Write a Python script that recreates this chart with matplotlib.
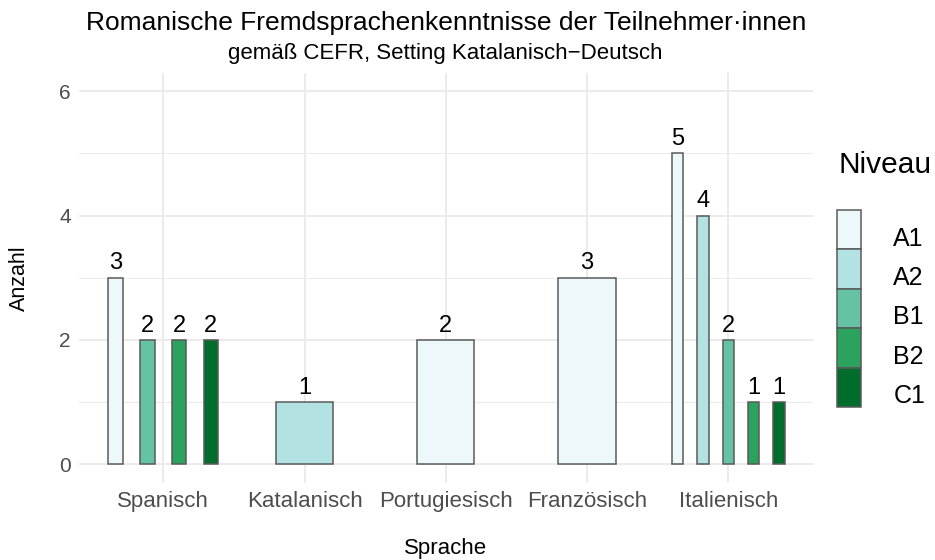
import matplotlib
matplotlib.use('Agg')
import matplotlib.pyplot as plt
from matplotlib.patches import Patch, Rectangle
from matplotlib.legend_handler import HandlerPatch

plt.rcParams['font.family'] = ['Liberation Sans', 'DejaVu Sans']

# Daten
sprachen = ['Spanisch', 'Katalanisch', 'Portugiesisch', 'Französisch', 'Italienisch']
niveaus = ['A1', 'A2', 'B1', 'B2', 'C1']
farben = ['#EDF8FB', '#B2E2E2', '#66C2A4', '#2CA25F', '#006D2C']

spanisch_niveau = ['A1', 'B1', 'B2', 'C1']
spanisch_anzahl = [3, 2, 2, 2]
katalanisch_niveau = ['A2']
katalanisch_anzahl = [1]
portugiesisch_niveau = ['A1']
portugiesisch_anzahl = [2]
franzoesisch_niveau = ['A1']
franzoesisch_anzahl = [3]
italienisch_niveau = ['A1', 'A2', 'B1', 'B2', 'C1']
italienisch_anzahl = [5, 4, 2, 1, 1]

gruppen = [
    (spanisch_niveau, spanisch_anzahl),
    (katalanisch_niveau, katalanisch_anzahl),
    (portugiesisch_niveau, portugiesisch_anzahl),
    (franzoesisch_niveau, franzoesisch_anzahl),
    (italienisch_niveau, italienisch_anzahl),
]

W, H = 935, 560
fig = plt.figure(figsize=(W / 100, H / 100), dpi=100)
ax = fig.add_axes([78.5 / W, 1 - 483 / H, (813 - 78.5) / W, (483 - 72.5) / H])

rand = '#5A5A5A'
# Balken, dodge2-artig: Gesamtbreite 0.9, Balken = 45% eines Slots
for i, (niv, anz) in enumerate(gruppen):
    n = len(niv)
    slot = 0.9 / n
    for j, (nv, a) in enumerate(zip(niv, anz)):
        x = i + 1 - 0.45 + slot * (j + 0.5)
        ax.bar(x, a, width=slot * 0.45, color=farben[niveaus.index(nv)],
               edgecolor=rand, linewidth=1.1, zorder=2)
        ax.annotate(str(a), (x, a), xytext=(0, 6), textcoords='offset points',
                    ha='center', va='baseline', fontsize=17, color='black')

ax.set_xlim(0.4, 5.6)
ax.set_ylim(-0.3, 6.3)
ax.set_xticks(range(1, 6))
ax.set_xticklabels(sprachen)
ax.set_yticks([0, 2, 4, 6])
ax.set_yticks([1, 3, 5], minor=True)
ax.tick_params(axis='x', length=0, pad=5.5, labelsize=16, labelcolor='#4D4D4D')
ax.tick_params(axis='y', length=0, pad=5.6, labelsize=15, labelcolor='#4D4D4D')
ax.tick_params(which='minor', length=0)

ax.set_axisbelow(True)
ax.grid(which='major', color='#EBEBEB', linewidth=1.4)
ax.grid(which='minor', axis='y', color='#EBEBEB', linewidth=0.7)
for s in ax.spines.values():
    s.set_visible(False)

# Texte
fig.text(445.7 / W, 1 - 30 / H, 'Romanische Fremdsprachenkenntnisse der Teilnehmer\u00b7innen',
         ha='center', va='baseline', fontsize=19)
fig.text(445.7 / W, 1 - 59 / H, 'gemäß CEFR, Setting Katalanisch\u2212Deutsch',
         ha='center', va='baseline', fontsize=16)
fig.text(445.7 / W, 1 - 554 / H, 'Sprache', ha='center', va='baseline', fontsize=16)
fig.text(19 / W, 1 - 277.7 / H, 'Anzahl', ha='center', va='center', rotation=90, fontsize=15.5)


# Legendenschluessel etwas nach oben, damit die Beschriftung tiefer sitzt (wie ggplot)
def key_patch(legend, orig_handle, xdescent, ydescent, width, height, fontsize):
    return Rectangle((-xdescent, -ydescent + 5.8), width, height)


handles = [Patch(facecolor=c, edgecolor=rand, linewidth=1.1) for c in farben]
fig.text(838.3 / W, 1 - 173.3 / H, 'Niveau', ha='left', va='baseline', fontsize=21.5)
fig.legend(handles, niveaus, loc='upper left', bbox_to_anchor=(837.3 / W, 1 - 218 / H),
           frameon=False, fontsize=18, borderpad=0, borderaxespad=0,
           handlelength=0.96, handleheight=2.05, labelspacing=0, handletextpad=1.28,
           handler_map={Patch: HandlerPatch(patch_func=key_patch)})

fig.savefig('out.png', dpi=100)
